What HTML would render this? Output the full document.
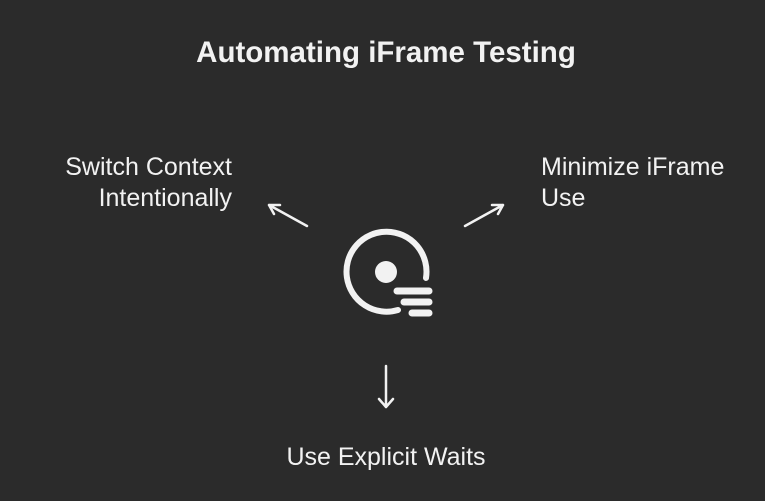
<!DOCTYPE html>
<html><head><style>
html,body{margin:0;padding:0;background:#2b2b2b;}
body{width:765px;height:501px;position:relative;overflow:hidden;font-family:"Liberation Sans",sans-serif;color:#f2f2f2;}
.t{position:absolute;white-space:nowrap;}
</style></head><body>
<div class="t" style="left:0;width:772px;text-align:center;top:36px;font-size:29.5px;font-weight:bold;">Automating iFrame Testing</div>
<div class="t" style="right:533px;top:152px;font-size:25px;line-height:31px;text-align:right;">Switch Context<br>Intentionally</div>
<div class="t" style="left:541px;top:152px;font-size:25px;line-height:31px;">Minimize iFrame<br>Use</div>
<div class="t" style="left:0;width:772px;text-align:center;top:443px;font-size:25px;">Use Explicit Waits</div>
<svg width="765" height="501" style="position:absolute;left:0;top:0" fill="none" stroke="#f2f2f2" stroke-linecap="round">
<path d="M398 310 A40 40 0 1 1 426 278" stroke-width="6"/>
<circle cx="386" cy="272" r="11" fill="#f2f2f2" stroke="none"/>
<line x1="397" y1="291" x2="429" y2="291" stroke-width="7"/>
<line x1="404" y1="302" x2="429" y2="302" stroke-width="7"/>
<line x1="412" y1="313" x2="429" y2="313" stroke-width="7"/>
<g stroke-width="2.5">
<path d="M307 226 L269 205 M269 205 L280 205 M269 205 L274 214"/>
<path d="M465 226 L503 205 M503 205 L492 205 M503 205 L498 214"/>
<path d="M386 366 L386 407 M386 407 L379 399 M386 407 L393 399"/>
</g>
</svg>
</body></html>
